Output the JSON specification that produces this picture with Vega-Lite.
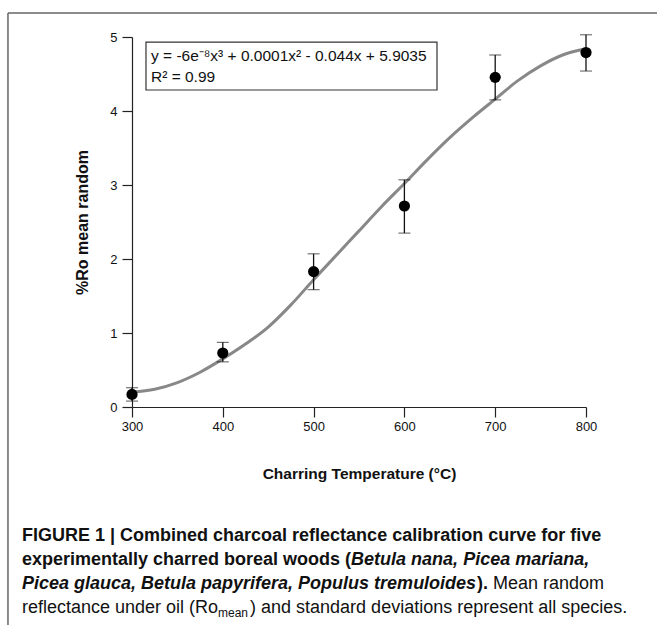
{
  "$schema": "https://vega.github.io/schema/vega-lite/v6.json",
  "width": 454,
  "height": 370,
  "autosize": {"type": "none"},
  "padding": {"left": 132, "top": 37, "right": 71, "bottom": 218},
  "background": "white",
  "config": {"view": {"stroke": null}, "font": "Liberation Sans"},
  "datasets": {
    "points": [
      {"T": 300, "R": 0.17, "lo": 0.08, "hi": 0.26},
      {"T": 400, "R": 0.73, "lo": 0.61, "hi": 0.874},
      {"T": 500, "R": 1.83, "lo": 1.585, "hi": 2.07},
      {"T": 600, "R": 2.716, "lo": 2.35, "hi": 3.07},
      {"T": 700, "R": 4.455, "lo": 4.15, "hi": 4.757},
      {"T": 800, "R": 4.79, "lo": 4.54, "hi": 5.03}
    ],
    "curve": [
      {"T": 300, "R": 0.2},
      {"T": 325, "R": 0.24},
      {"T": 350, "R": 0.33},
      {"T": 375, "R": 0.47},
      {"T": 400, "R": 0.65},
      {"T": 425, "R": 0.85},
      {"T": 450, "R": 1.08},
      {"T": 475, "R": 1.38},
      {"T": 500, "R": 1.72},
      {"T": 525, "R": 2.05},
      {"T": 550, "R": 2.38},
      {"T": 575, "R": 2.71},
      {"T": 600, "R": 3.02},
      {"T": 625, "R": 3.34},
      {"T": 650, "R": 3.64},
      {"T": 675, "R": 3.91},
      {"T": 700, "R": 4.16},
      {"T": 725, "R": 4.41},
      {"T": 750, "R": 4.61},
      {"T": 775, "R": 4.76},
      {"T": 800, "R": 4.84}
    ],
    "one": [{}]
  },
  "layer": [
    {
      "data": {"name": "curve"},
      "mark": {"type": "line", "color": "#888888", "strokeWidth": 3, "interpolate": "monotone"},
      "encoding": {
        "x": {
          "field": "T", "type": "quantitative",
          "scale": {"domain": [300, 800], "nice": false, "zero": false},
          "title": "Charring Temperature (°C)",
          "axis": {
            "values": [300, 400, 500, 600, 700, 800], "format": "d", "labelFlush": false, "labelOverlap": false,
            "grid": false, "tickSize": 10, "tickColor": "#222", "tickWidth": 1.2,
            "domainColor": "#222", "domainWidth": 1.2,
            "labelFontSize": 13, "labelColor": "#111", "labelPadding": 3,
            "titleFontSize": 15.5, "titleFontWeight": "bold", "titleColor": "#111", "titlePadding": 33
          }
        },
        "y": {
          "field": "R", "type": "quantitative",
          "scale": {"domain": [0, 5], "nice": false, "zero": false},
          "title": "%Ro mean random",
          "axis": {
            "values": [0, 1, 2, 3, 4, 5], "format": "d", "labelFlush": false, "labelOverlap": false,
            "grid": false, "tickSize": 10, "tickColor": "#222", "tickWidth": 1.2,
            "domainColor": "#222", "domainWidth": 1.2,
            "labelFontSize": 13, "labelColor": "#111", "labelPadding": 5,
            "titleFontSize": 16, "titleFontWeight": "bold", "titleColor": "#111", "titlePadding": 19
          }
        }
      }
    },
    {
      "data": {"name": "points"},
      "mark": {"type": "errorbar", "ticks": {"size": 12, "color": "#111", "strokeWidth": 1.3}, "rule": {"color": "#111", "strokeWidth": 1.3}},
      "encoding": {
        "x": {"field": "T", "type": "quantitative", "title": "Charring Temperature (°C)"},
        "y": {"field": "lo", "type": "quantitative", "title": "%Ro mean random"},
        "y2": {"field": "hi"}
      }
    },
    {
      "data": {"name": "points"},
      "mark": {"type": "circle", "size": 125, "color": "black", "opacity": 1},
      "encoding": {
        "x": {"field": "T", "type": "quantitative", "title": "Charring Temperature (°C)"},
        "y": {"field": "R", "type": "quantitative", "title": "%Ro mean random"}
      }
    },
    {
      "data": {"name": "one"},
      "mark": {"type": "rect", "fill": "white", "stroke": "#333", "strokeWidth": 1.2},
      "encoding": {
        "x": {"datum": 315.4, "type": "quantitative", "title": "Charring Temperature (°C)"},
        "x2": {"datum": 635.9},
        "y": {"datum": 4.932, "type": "quantitative", "title": "%Ro mean random"},
        "y2": {"datum": 4.284}
      }
    },
    {
      "data": {"name": "one"},
      "mark": {"type": "text", "text": "y = -6e⁻⁸x³ + 0.0001x² - 0.044x + 5.9035", "align": "left", "baseline": "middle", "fontSize": 15.5, "color": "#111"},
      "encoding": {
        "x": {"datum": 320.9, "type": "quantitative", "title": "Charring Temperature (°C)"},
        "y": {"datum": 4.743, "type": "quantitative", "title": "%Ro mean random"}
      }
    },
    {
      "data": {"name": "one"},
      "mark": {"type": "text", "text": "R² = 0.99", "align": "left", "baseline": "middle", "fontSize": 15.5, "color": "#111"},
      "encoding": {
        "x": {"datum": 320.9, "type": "quantitative", "title": "Charring Temperature (°C)"},
        "y": {"datum": 4.459, "type": "quantitative", "title": "%Ro mean random"}
      }
    },
    {
      "data": {"name": "one"},
      "mark": {"type": "rule", "color": "#666", "strokeWidth": 1.5},
      "encoding": {
        "x": {"datum": 163.4, "type": "quantitative", "title": "Charring Temperature (°C)"},
        "y": {"datum": 5.324, "type": "quantitative", "title": "%Ro mean random"},
        "y2": {"datum": -2.99}
      }
    },
    {
      "data": {"name": "one"},
      "mark": {"type": "rule", "color": "#666", "strokeWidth": 1.5},
      "encoding": {
        "x": {"datum": 163.4, "type": "quantitative", "title": "Charring Temperature (°C)"},
        "x2": {"datum": 880},
        "y": {"datum": 5.324, "type": "quantitative", "title": "%Ro mean random"}
      }
    },
    {
      "data": {"name": "one"},
      "mark": {"type": "text", "text": "FIGURE 1 | Combined charcoal reflectance calibration curve for five", "align": "left", "baseline": "middle", "fontSize": 18, "fontWeight": "bold", "color": "#111"},
      "encoding": {
        "x": {"datum": 178.85, "type": "quantitative", "title": "Charring Temperature (°C)"},
        "y": {"datum": -1.743, "type": "quantitative", "title": "%Ro mean random"}
      }
    },
    {
      "data": {"name": "one"},
      "mark": {"type": "text", "text": "experimentally charred boreal woods (", "align": "left", "baseline": "middle", "fontSize": 18, "fontWeight": "bold", "color": "#111"},
      "encoding": {
        "x": {"datum": 178.85, "type": "quantitative", "title": "Charring Temperature (°C)"},
        "y": {"datum": -2.068, "type": "quantitative", "title": "%Ro mean random"}
      }
    },
    {
      "data": {"name": "one"},
      "mark": {"type": "text", "text": "Betula nana, Picea mariana,", "align": "left", "baseline": "middle", "fontSize": 18, "fontWeight": "bold", "fontStyle": "italic", "color": "#111"},
      "encoding": {
        "x": {"datum": 541.3, "type": "quantitative", "title": "Charring Temperature (°C)"},
        "y": {"datum": -2.068, "type": "quantitative", "title": "%Ro mean random"}
      }
    },
    {
      "data": {"name": "one"},
      "mark": {"type": "text", "text": "Picea glauca, Betula papyrifera, Populus tremuloides", "align": "left", "baseline": "middle", "fontSize": 18, "fontWeight": "bold", "fontStyle": "italic", "color": "#111"},
      "encoding": {
        "x": {"datum": 178.85, "type": "quantitative", "title": "Charring Temperature (°C)"},
        "y": {"datum": -2.392, "type": "quantitative", "title": "%Ro mean random"}
      }
    },
    {
      "data": {"name": "one"},
      "mark": {"type": "text", "text": ").", "align": "left", "baseline": "middle", "fontSize": 18, "fontWeight": "bold", "color": "#111"},
      "encoding": {
        "x": {"datum": 680.0, "type": "quantitative", "title": "Charring Temperature (°C)"},
        "y": {"datum": -2.392, "type": "quantitative", "title": "%Ro mean random"}
      }
    },
    {
      "data": {"name": "one"},
      "mark": {"type": "text", "text": "Mean random", "align": "left", "baseline": "middle", "fontSize": 18, "color": "#111"},
      "encoding": {
        "x": {"datum": 697.6, "type": "quantitative", "title": "Charring Temperature (°C)"},
        "y": {"datum": -2.392, "type": "quantitative", "title": "%Ro mean random"}
      }
    },
    {
      "data": {"name": "one"},
      "mark": {"type": "text", "text": "reflectance under oil (Ro", "align": "left", "baseline": "middle", "fontSize": 18, "color": "#111"},
      "encoding": {
        "x": {"datum": 178.85, "type": "quantitative", "title": "Charring Temperature (°C)"},
        "y": {"datum": -2.716, "type": "quantitative", "title": "%Ro mean random"}
      }
    },
    {
      "data": {"name": "one"},
      "mark": {"type": "text", "text": "mean", "align": "left", "baseline": "middle", "fontSize": 12, "color": "#111"},
      "encoding": {
        "x": {"datum": 394.7, "type": "quantitative", "title": "Charring Temperature (°C)"},
        "y": {"datum": -2.78, "type": "quantitative", "title": "%Ro mean random"}
      }
    },
    {
      "data": {"name": "one"},
      "mark": {"type": "text", "text": ") and standard deviations represent all species.", "align": "left", "baseline": "middle", "fontSize": 18, "color": "#111"},
      "encoding": {
        "x": {"datum": 430.0, "type": "quantitative", "title": "Charring Temperature (°C)"},
        "y": {"datum": -2.716, "type": "quantitative", "title": "%Ro mean random"}
      }
    }
  ]
}
